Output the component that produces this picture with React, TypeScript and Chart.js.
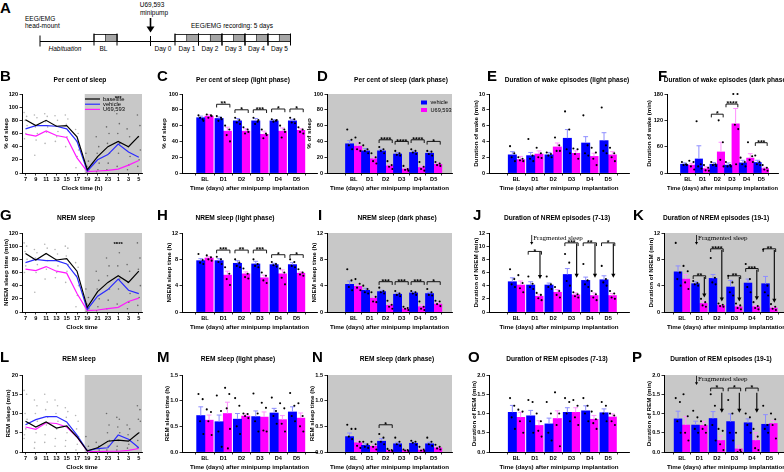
import React, { useEffect, useRef } from 'react';
import { Chart, registerables } from 'chart.js';

Chart.register(...registerables);

const SANS = "'Liberation Sans', Arial, Helvetica, sans-serif";
const SERIF = "'Liberation Serif', 'Times New Roman', serif";
Chart.defaults.color = '#000';
Chart.defaults.font.family = SANS;

// ---------------- categories / ticks ----------------
const days = ['BL', 'D1', 'D2', 'D3', 'D4', 'D5'];
const clockHours = ['7', '9', '11', '13', '15', '17', '19', '21', '23', '1', '3', '5'];
const lineLegend = ['baseline', 'vehicle', 'U69,593'];
const barLegend = ['vehicle', 'U69,593'];

// ---------------- B: per cent of sleep (2 h bins) ----------------
const sleepPctBaseline = [81, 72, 80, 71, 72, 55, 5, 25, 40, 48, 40, 56];
const sleepPctVehicle = [67, 72, 72, 71, 67, 48, 3, 20, 28, 44, 32, 24];
const sleepPctU69 = [59, 56, 64, 57, 54, 23, 2, 3, 4, 6, 12, 19];
const sleepPctIndividual = [
  [92, 86, 80, 72, 60, 52], [88, 84, 70, 60, 50, 27], [90, 86, 78, 70, 62, 45],
  [87, 80, 72, 63, 55, 48], [88, 82, 74, 64, 55, 40], [66, 60, 48, 35, 25, 8],
  [30, 18, 10, 5, 2, 0], [55, 40, 30, 15, 5, 2], [70, 60, 45, 30, 15, 5],
  [90, 75, 60, 45, 30, 10], [67, 55, 40, 25, 12, 5], [88, 72, 55, 35, 20, 10],
];

// ---------------- G: NREM sleep (min per 2 h) ----------------
const nremBaseline = [89, 79, 89, 79, 81, 62, 7, 31, 45, 55, 45, 62];
const nremVehicle = [75, 80, 78, 78, 73, 53, 4, 24, 34, 50, 33, 28];
const nremU69 = [65, 63, 69, 62, 59, 28, 2, 3, 5, 7, 16, 21];
const nremIndividual = [
  [105, 100, 92, 80, 70, 60], [95, 90, 82, 72, 60, 30], [103, 97, 88, 78, 65, 50],
  [95, 88, 80, 70, 60, 52], [100, 97, 85, 72, 62, 45], [75, 68, 55, 40, 25, 8],
  [35, 22, 12, 5, 2, 0], [62, 48, 35, 20, 8, 2], [82, 70, 55, 35, 18, 5],
  [105, 90, 70, 50, 35, 12], [72, 62, 45, 28, 15, 5], [105, 82, 65, 40, 22, 10],
];

// ---------------- L: REM sleep (min per 2 h) ----------------
const remBaseline = [8.0, 6.5, 7.8, 6.2, 6.8, 3.9, 0.3, 1.1, 2.8, 3.1, 2.8, 5.0];
const remVehicle = [7.1, 8.4, 9.2, 9.2, 7.8, 4.4, 0.3, 0.9, 1.1, 4.4, 3.3, 1.1];
const remU69 = [6.5, 5.9, 7.6, 7.4, 6.5, 3.9, 0.2, 0.1, 0.2, 0.2, 0.4, 0.9];
const remIndividual = [
  [16, 15, 10, 8.5, 6, 4.5, 3.5], [13.5, 12, 10, 8, 5, 2.5, 1], [15, 13, 11, 9, 7, 4.5, 2.5],
  [13.5, 12, 10, 8, 6, 3.5, 1.5], [11.5, 10.5, 9, 7, 5, 3, 1.5], [9.5, 8, 6, 4, 2, 0.5],
  [4, 1.5, 0.5, 0, 0], [2.5, 1.5, 1, 0.5, 0], [10, 7, 5, 3, 1.5, 0.5],
  [9, 8.5, 6.5, 5, 3, 1.5, 0.5], [7, 6, 4.5, 3, 2, 1], [12, 11, 8.5, 8, 5, 3, 1],
];

// ---------------- C ----------------
const lightSleepVeh = [70, 69, 66, 66, 66, 66];
const lightSleepVehErr = [2, 2, 3, 3, 1.5, 2];
const lightSleepU69 = [72, 53, 53, 49, 53, 54];
const lightSleepU69Err = [2, 5, 3, 4, 4, 2];
const lightSleepVehDots = [[73, 68, 70, 66], [72, 70, 66, 68], [70, 67, 64, 62], [70, 65, 62, 67], [68, 66, 65, 67], [70, 68, 64, 63]];
const lightSleepU69Dots = [[74, 73, 70, 72], [60, 55, 48, 40], [58, 55, 50, 52], [55, 50, 44, 48], [60, 55, 45, 52], [58, 55, 52, 50]];
const lightSleepSig = ['', '**', '*', '***', '*', '*'];
const lightSleepSigAt = [0, 87, 80, 80, 81, 81];

// ---------------- D ----------------
const darkSleepVeh = [37, 28, 28, 24, 26, 25];
const darkSleepVehErr = [4, 3, 2, 2, 2, 2];
const darkSleepU69 = [34, 18, 9, 5, 7, 11];
const darkSleepU69Err = [4, 3, 2, 1, 2, 2];
const darkSleepVehDots = [[55, 42, 35, 30], [35, 30, 28, 25], [33, 30, 28, 25], [28, 25, 23, 22], [30, 28, 26, 24], [28, 27, 24, 22]];
const darkSleepU69Dots = [[45, 38, 30, 28], [25, 20, 15, 12], [15, 10, 8, 5], [9, 5, 4, 3], [14, 8, 5, 3], [14, 12, 10, 9]];
const darkSleepSig = ['', '', '****', '****', '****', '*'];
const darkSleepSigAt = [0, 0, 42, 40, 42, 40];

// ---------------- E ----------------
const wakeLightVeh = [2.3, 2.2, 2.3, 4.4, 3.8, 4.1];
const wakeLightVehErr = [0.4, 0.4, 0.3, 1.1, 0.8, 1.0];
const wakeLightU69 = [1.7, 2.4, 3.3, 2.5, 2.1, 2.3];
const wakeLightU69Err = [0.4, 0.4, 0.5, 0.3, 0.4, 0.4];
const wakeLightVehDots = [[3.4, 2.5, 2, 1.5], [4.3, 2.2, 1.8, 1.5], [2.6, 2.4, 2.2, 2], [7.8, 5.5, 3, 2.5], [7.3, 3.5, 2.5, 2.2], [8.3, 3.5, 2.8, 2.5]];
const wakeLightU69Dots = [[2, 1.8, 1.6, 1.5], [3.2, 2.5, 2, 1.9], [4.5, 3.5, 2.8, 2.8], [3.1, 3, 2.4, 1.8], [3.2, 2.6, 1.8, 1], [3.2, 2.5, 2, 1.5]];

// ---------------- F ----------------
const wakeDarkVeh = [20, 32, 20, 18, 23, 24];
const wakeDarkVehErr = [3, 30, 4, 5, 6, 5];
const wakeDarkU69 = [18, 10, 48, 112, 34, 10];
const wakeDarkU69Err = [4, 4, 22, 35, 10, 3];
const wakeDarkVehDots = [[25, 20, 18, 18], [118, 20, 15, 10], [25, 20, 18, 16], [25, 18, 15, 15], [35, 25, 20, 15], [40, 25, 20, 18]];
const wakeDarkU69Dots = [[28, 25, 15, 8], [18, 12, 6, 5], [120, 70, 30, 15], [180, 180, 110, 100, 20], [70, 38, 30, 25], [18, 12, 8, 5]];
const wakeDarkSig = ['', '', '*', '****', '', '***'];
const wakeDarkSigAt = [0, 0, 134, 157, 0, 69];

// ---------------- H ----------------
const nremLightVeh = [7.8, 7.8, 7.4, 7.3, 7.2, 7.2];
const nremLightVehErr = [0.3, 0.3, 0.4, 0.4, 0.2, 0.3];
const nremLightU69 = [8.2, 5.6, 5.8, 5.2, 5.8, 5.9];
const nremLightU69Err = [0.2, 0.6, 0.3, 0.4, 0.6, 0.2];
const nremLightVehDots = [[8.8, 7.9, 7.5, 7.3], [8.4, 8, 7.6, 7.3], [8, 7.5, 7, 6.8], [8, 7.3, 7, 6.8], [7.6, 7.3, 7.1, 6.9], [8, 7.6, 7, 6.8]];
const nremLightU69Dots = [[8.6, 8.3, 8, 7.8], [6.8, 5.8, 5, 4.1], [6.6, 5.8, 5.3, 5.1], [6, 5.5, 4.8, 4.4], [6.6, 6, 5.2, 4.2], [6.5, 6, 5.7, 5.5]];
const nremLightSig = ['', '***', '**', '***', '*', '*'];
const nremLightSigAt = [0, 9.4, 9.4, 9.4, 8.7, 8.7];

// ---------------- I ----------------
const nremDarkVeh = [4.2, 3.3, 3.1, 2.7, 2.9, 2.8];
const nremDarkVehErr = [0.5, 0.3, 0.2, 0.2, 0.2, 0.2];
const nremDarkU69 = [3.9, 2.1, 1.0, 0.5, 0.8, 1.2];
const nremDarkU69Err = [0.3, 0.3, 0.3, 0.1, 0.3, 0.2];
const nremDarkVehDots = [[6.5, 4.8, 3.8, 3.3], [4, 3.5, 3, 2.8], [3.7, 3.2, 3, 2.8], [3.2, 2.8, 2.6, 2.4], [3.2, 3, 2.8, 2.6], [3.5, 3, 2.6, 2.5]];
const nremDarkU69Dots = [[5, 4.3, 3.7, 3.3], [3, 2.3, 1.6, 1.5], [1.7, 1.1, 0.8, 0.5], [0.8, 0.6, 0.5, 0.3], [1.6, 0.8, 0.5, 0.3], [1.7, 1.6, 1.2, 0.9]];
const nremDarkSig = ['', '', '***', '***', '***', '*'];
const nremDarkSigAt = [0, 0, 4.6, 4.6, 4.6, 4.6];

// ---------------- J ----------------
const nremEpLightVeh = [4.6, 4.1, 4.1, 5.7, 4.8, 4.9];
const nremEpLightVehErr = [0.6, 0.5, 0.3, 0.9, 0.5, 0.6];
const nremEpLightU69 = [4.1, 2.4, 3.0, 2.6, 2.5, 2.5];
const nremEpLightU69Err = [0.6, 0.3, 0.4, 0.3, 0.4, 0.3];
const nremEpLightVehDots = [[6.5, 5, 4.2, 3.8], [5.4, 4.3, 3.8, 3.5], [5.4, 4.2, 3.8, 3.5], [8.8, 7.5, 4.7, 4], [7.3, 4.8, 4.2, 3.8], [7, 5, 4.5, 4]];
const nremEpLightU69Dots = [[5.6, 4.4, 3.6, 3], [2.9, 2.6, 2.1, 1.8], [3.8, 3.2, 2.6, 2.2], [3, 2.7, 2.4, 2.2], [3.2, 2.7, 2.2, 1.8], [3.2, 2.8, 2.2, 2]];
const nremEpLightSig = ['', '*', '', '***', '**', '*'];
const nremEpLightSigAt = [0, 9.2, 0, 10.5, 10.5, 10.5];
const nremEpLightArrows = [[1, 9.1, 5.0], [3, 10.4, 5.2], [4, 10.4, 5.2], [5, 10.4, 5.2]];

// ---------------- K ----------------
const nremEpDarkVeh = [6.1, 4.3, 5.1, 3.8, 4.4, 4.3];
const nremEpDarkVehErr = [0.9, 0.3, 0.6, 1.0, 0.6, 1.1];
const nremEpDarkU69 = [5.0, 1.3, 1.0, 0.8, 0.8, 0.6];
const nremEpDarkU69Err = [0.7, 0.4, 0.1, 0.2, 0.2, 0.2];
const nremEpDarkVehDots = [[10.5, 6, 5, 4], [4.7, 4.4, 4.2, 4], [8.2, 5.2, 4.5, 4.2], [5.5, 4.5, 3, 2.5], [7.3, 5, 3.8, 3], [9.5, 4, 3, 2.5]];
const nremEpDarkU69Dots = [[7, 6.2, 4.5, 3.5], [2, 1.5, 1, 0.8], [1.3, 1.1, 0.9, 0.8], [1.3, 1, 0.6, 0.4], [1.5, 0.9, 0.6, 0.4], [1.2, 0.8, 0.5, 0.3]];
const nremEpDarkSig = ['', '**', '****', '**', '***', '**'];
const nremEpDarkSigAt = [0, 5.5, 9.6, 5.5, 6.6, 9.6];
const nremEpDarkArrows = [[1, 5.3, 2.2], [2, 9.4, 1.6], [3, 5.3, 1.6], [4, 6.4, 1.8], [5, 9.4, 1.4]];

// ---------------- M ----------------
const remLightVeh = [0.71, 0.59, 0.64, 0.69, 0.76, 0.78];
const remLightVehErr = [0.17, 0.13, 0.11, 0.11, 0.09, 0.1];
const remLightU69 = [0.62, 0.75, 0.70, 0.68, 0.63, 0.66];
const remLightU69Err = [0.1, 0.22, 0.04, 0.1, 0.08, 0.1];
const remLightVehDots = [[1.13, 1.03, 0.6, 0.35], [1.1, 0.8, 0.4, 0.1], [1.05, 0.9, 0.5, 0.35], [1.14, 0.75, 0.6, 0.4], [1.06, 0.8, 0.7, 0.55], [1.15, 0.9, 0.7, 0.6]];
const remLightU69Dots = [[0.83, 0.78, 0.6, 0.33], [1.25, 1.13, 0.85, 0.45, 0.07], [0.75, 0.74, 0.7, 0.66], [0.96, 0.86, 0.42, 0.4], [0.95, 0.85, 0.55, 0.4], [0.95, 0.7, 0.5, 0.4]];

// ---------------- N ----------------
const remDarkVeh = [0.30, 0.13, 0.21, 0.16, 0.17, 0.16];
const remDarkVehErr = [0.07, 0.03, 0.05, 0.03, 0.02, 0.03];
const remDarkU69 = [0.18, 0.11, 0.03, 0.03, 0.04, 0.08];
const remDarkU69Err = [0.05, 0.03, 0.01, 0.01, 0.01, 0.02];
const remDarkVehDots = [[0.53, 0.45, 0.3, 0.25], [0.2, 0.15, 0.1, 0.08], [0.35, 0.28, 0.2, 0.15], [0.28, 0.2, 0.15, 0.12], [0.22, 0.2, 0.18, 0.14], [0.28, 0.2, 0.15, 0.12]];
const remDarkU69Dots = [[0.45, 0.2, 0.12, 0.08], [0.2, 0.15, 0.1, 0.05], [0.06, 0.04, 0.03, 0.02], [0.05, 0.04, 0.03, 0.02], [0.1, 0.05, 0.03, 0.02], [0.14, 0.1, 0.07, 0.05]];
const remDarkSig = ['', '', '*', '', '', ''];
const remDarkSigAt = [0, 0, 0.53, 0, 0, 0];

// ---------------- O ----------------
const remEpLightVeh = [1.03, 0.94, 0.73, 1.03, 1.07, 1.02];
const remEpLightVehErr = [0.18, 0.14, 0.15, 0.12, 0.13, 0.1];
const remEpLightU69 = [0.90, 0.69, 0.87, 1.03, 0.85, 0.91];
const remEpLightU69Err = [0.13, 0.12, 0.2, 0.12, 0.1, 0.08];
const remEpLightVehDots = [[1.4, 1.2, 0.9, 0.6], [1.35, 1.3, 0.8, 0.5], [1.3, 1.0, 0.5, 0.3], [1.4, 1.3, 1.0, 0.8], [1.4, 1.2, 1.0, 0.8], [1.3, 1.2, 1.0, 0.8]];
const remEpLightU69Dots = [[1.1, 1.05, 0.8, 0.5], [1.0, 0.8, 0.55, 0.4], [1.55, 1.0, 0.7, 0.15], [1.35, 1.2, 0.9, 0.7], [1.05, 0.85, 0.75, 0.6], [1.0, 0.95, 0.8, 0.7]];

// ---------------- P ----------------
const remEpDarkVeh = [0.86, 0.70, 0.87, 0.79, 0.76, 0.72];
const remEpDarkVehErr = [0.2, 0.1, 0.18, 0.2, 0.1, 0.25];
const remEpDarkU69 = [0.70, 0.69, 0.30, 0.08, 0.30, 0.74];
const remEpDarkU69Err = [0.22, 0.1, 0.12, 0.08, 0.2, 0.08];
const remEpDarkVehDots = [[1.4, 1.3, 0.8, 0.5], [1.07, 0.9, 0.6, 0.5], [1.5, 1.2, 0.7, 0.3], [1.35, 1.0, 0.5, 0.3], [1.0, 0.9, 0.7, 0.5], [1.2, 0.7, 0.6, 0.5]];
const remEpDarkU69Dots = [[1.5, 0.93, 0.5, 0.3], [0.8, 0.7, 0.6, 0.5], [0.6, 0.55, 0.2, 0.05], [0.5, 0.05, 0, 0], [0.6, 0.4, 0.1, 0.05], [1.0, 0.85, 0.7, 0.35]];
const remEpDarkSig = ['', '', '*', '*', '*', ''];
const remEpDarkSigAt = [0, 0, 1.66, 1.66, 1.66, 0];
const remEpDarkArrows = [[2, 1.54, 1.02], [3, 1.54, 1.02], [4, 1.54, 1.02]];

// ---------------- styling ----------------
const BLUE = '#0000ff';
const MAG = '#ff00ff';
const BLUE_ERR = '#8e8eff';
const MAG_ERR = '#ff90ff';
const GRAY = '#c8c8c8';
const TICK_FONT = { family: SANS, size: 5.6, weight: 'bold' };
const AXIS_FONT = { family: SANS, size: 6.2, weight: 'bold' };
const AXIS_LH = 6.2 * 1.2;
const JIT = [-2.3, 1.9, -0.7, 2.6, 0.5, -1.7];

const ROWS = [
  { top: 94, bottom: 173, titleY: 80, xTitleY: 188, letterY: 76 },
  { top: 233, bottom: 312, titleY: 218, xTitleY: 327, letterY: 215 },
  { top: 375, bottom: 452, titleY: 359, xTitleY: 467, letterY: 357 },
];

const DAYS_X = 'Time (days) after minipump implantation';

function geom(spec: any) {
  const row = ROWS[spec.row];
  const cl = Math.floor(spec.axis - 26);
  const cr = Math.ceil(Math.max(spec.right + 3, spec.canvasRight || 0));
  const ct = row.titleY - 7;
  const cb = row.xTitleY + 5;
  return { row, cl, cr, ct, cb, W: cr - cl, H: cb - ct };
}

function makeScales(spec: any, g: any, labels: string[], xMin: number, xMax: number, xTitle: string) {
  const grid = { display: true, drawOnChartArea: false, drawTicks: true, tickLength: 2.5, color: '#000', lineWidth: 0.8 };
  const border = { display: true, color: '#000', width: 1 };
  return {
    x: {
      type: 'linear', min: xMin, max: xMax,
      afterBuildTicks: (s: any) => { s.ticks = labels.map((_, i) => ({ value: i })); },
      afterFit: (s: any) => { s.height = g.cb - spec.bottom; },
      ticks: { callback: (v: any) => labels[v] ?? '', font: TICK_FONT, color: '#000', padding: 0.5, autoSkip: false, maxRotation: 0, minRotation: 0 },
      grid, border,
      title: { display: true, text: xTitle, font: AXIS_FONT, color: '#000', padding: { top: 0, bottom: g.cb - g.row.xTitleY - AXIS_LH / 2 } },
    },
    y: {
      type: 'linear', min: 0, max: spec.yMax,
      afterFit: (s: any) => { s.width = spec.axis - g.cl; },
      ticks: { stepSize: spec.yStep, callback: (v: any) => Number(v).toFixed(spec.yDec || 0), font: TICK_FONT, color: '#000', padding: 1.5 },
      grid, border,
      title: { display: true, text: spec.yTitle, font: AXIS_FONT, color: '#000', padding: { top: Math.max(0, spec.axis - spec.yTitleOff - g.cl - AXIS_LH / 2), bottom: 0 } },
    },
  };
}

function drawTitle(ctx: any, spec: any, g: any) {
  ctx.save();
  ctx.fillStyle = '#000';
  ctx.font = `bold 6.6px ${SANS}`;
  ctx.textAlign = 'center';
  ctx.textBaseline = 'middle';
  ctx.fillText(spec.title, spec.titleX - g.cl, g.row.titleY - g.ct);
  ctx.restore();
}

function drawArrow(ctx: any, x: number, y1: number, y2: number, lw = 1.1, hl = 4, hw = 2.1) {
  ctx.save();
  ctx.strokeStyle = '#000';
  ctx.fillStyle = '#000';
  ctx.lineWidth = lw;
  ctx.beginPath();
  ctx.moveTo(x, y1);
  ctx.lineTo(x, y2 - hl + 0.5);
  ctx.stroke();
  ctx.beginPath();
  ctx.moveTo(x - hw, y2 - hl);
  ctx.lineTo(x + hw, y2 - hl);
  ctx.lineTo(x, y2);
  ctx.closePath();
  ctx.fill();
  ctx.restore();
}

function makeBarChart(canvas: HTMLCanvasElement, spec: any) {
  const g = geom(spec);
  const plotTop = g.row.top;
  spec.bottom = g.row.bottom;
  const xMin = -(spec.first - spec.axis) / spec.sp;
  const xMax = (spec.right - spec.first) / spec.sp;
  const deco = {
    id: 'deco',
    beforeDraw(chart: any) {
      if (!spec.gray) return;
      const { ctx, chartArea: a } = chart;
      ctx.save();
      ctx.fillStyle = GRAY;
      ctx.fillRect(a.left, a.top, a.right - a.left, a.bottom - a.top);
      ctx.restore();
    },
    afterDatasetsDraw(chart: any) {
      const { ctx } = chart;
      const ys = chart.scales.y;
      const metas = [chart.getDatasetMeta(0), chart.getDatasetMeta(1)];
      const means = [spec.veh, spec.u69];
      const errs = [spec.vehErr, spec.u69Err];
      const dots = [spec.vehDots, spec.u69Dots];
      const errCol = [BLUE_ERR, MAG_ERR];
      ctx.save();
      for (let d = 0; d < 2; d++) {
        metas[d].data.forEach((bar: any, i: number) => {
          const y0 = ys.getPixelForValue(means[d][i]);
          const y1 = ys.getPixelForValue(means[d][i] + errs[d][i]);
          ctx.strokeStyle = errCol[d];
          ctx.lineWidth = 1;
          ctx.beginPath();
          ctx.moveTo(bar.x, y0);
          ctx.lineTo(bar.x, y1);
          ctx.moveTo(bar.x - 2.4, y1);
          ctx.lineTo(bar.x + 2.4, y1);
          ctx.stroke();
        });
      }
      ctx.fillStyle = '#000';
      for (let d = 0; d < 2; d++) {
        metas[d].data.forEach((bar: any, i: number) => {
          (dots[d][i] || []).forEach((v: number, k: number) => {
            ctx.beginPath();
            ctx.arc(bar.x + JIT[k % JIT.length], ys.getPixelForValue(v), 1.05, 0, Math.PI * 2);
            ctx.fill();
          });
        });
      }
      if (spec.sig) {
        spec.sig.forEach((s: string, i: number) => {
          if (!s) return;
          const xa = metas[0].data[i].x;
          const xb = metas[1].data[i].x;
          const cx = (xa + xb) / 2;
          const half = spec.thick * 0.8;
          const y = ys.getPixelForValue(spec.sigAt[i]);
          ctx.strokeStyle = '#000';
          ctx.lineWidth = 0.9;
          ctx.beginPath();
          ctx.moveTo(cx - half, y + 3.2);
          ctx.lineTo(cx - half, y);
          ctx.lineTo(cx + half, y);
          ctx.lineTo(cx + half, y + 3.2);
          ctx.stroke();
          ctx.font = `bold 7px ${SANS}`;
          ctx.textAlign = 'center';
          ctx.textBaseline = 'alphabetic';
          ctx.fillText(s, cx, y + 2.2);
        });
      }
      if (spec.arrows) {
        spec.arrows.forEach(([i, from, to]: number[]) => {
          const x = metas[1].data[i].x + 1;
          drawArrow(ctx, x, ys.getPixelForValue(from), ys.getPixelForValue(to));
        });
      }
      if (spec.frag) {
        const [i, from, to, textAt] = spec.frag;
        const x = metas[0].data[i].x + 1;
        drawArrow(ctx, x, ys.getPixelForValue(from), ys.getPixelForValue(to), 0.8, 2.8, 1.6);
        ctx.fillStyle = '#000';
        ctx.font = `7px ${SERIF}`;
        ctx.textAlign = 'left';
        ctx.textBaseline = 'middle';
        ctx.fillText('Fragmented sleep', x + 1.5, ys.getPixelForValue(textAt));
      }
      if (spec.legend) {
        const lx = spec.legend[0] - g.cl;
        const ly = spec.legend[1] - g.ct;
        const cols = [BLUE, MAG];
        ctx.font = `5.6px ${SANS}`;
        ctx.textAlign = 'left';
        ctx.textBaseline = 'middle';
        barLegend.forEach((t, k) => {
          ctx.fillStyle = cols[k];
          ctx.fillRect(lx, ly + k * 7.5 - 2, 6, 4);
          ctx.fillStyle = '#000';
          ctx.fillText(t, lx + 9.5, ly + k * 7.5);
        });
      }
      ctx.restore();
    },
    afterDraw(chart: any) { drawTitle(chart.ctx, spec, g); },
  };
  return new Chart(canvas, {
    type: 'bar',
    data: {
      datasets: [
        { label: barLegend[0], data: spec.veh.map((v: number, i: number) => ({ x: i, y: v })), backgroundColor: BLUE, borderWidth: 0, barThickness: spec.thick },
        { label: barLegend[1], data: spec.u69.map((v: number, i: number) => ({ x: i, y: v })), backgroundColor: MAG, borderWidth: 0, barThickness: spec.thick },
      ],
    },
    options: {
      responsive: false, animation: false, devicePixelRatio: 1,
      layout: { padding: { top: plotTop - g.ct, right: g.cr - spec.right, left: 0, bottom: 0 } },
      plugins: { legend: { display: false }, title: { display: false }, tooltip: { enabled: false } },
      scales: makeScales(spec, g, days, xMin, xMax, DAYS_X) as any,
    },
    plugins: [deco],
  } as any);
}

function makeLineChart(canvas: HTMLCanvasElement, spec: any) {
  const g = geom(spec);
  spec.bottom = g.row.bottom;
  const xMin = -(spec.first - spec.axis) / spec.sp;
  const xMax = (spec.right - spec.first) / spec.sp;
  const colors = ['#000000', '#2b2bff', '#ff1aff'];
  const deco = {
    id: 'deco',
    beforeDraw(chart: any) {
      const { ctx, chartArea: a } = chart;
      const xs = chart.scales.x;
      const x0 = xs.getPixelForValue(spec.grayFrom);
      ctx.save();
      ctx.fillStyle = GRAY;
      ctx.fillRect(x0, a.top, a.right - x0, a.bottom - a.top);
      ctx.restore();
    },
    beforeDatasetsDraw(chart: any) {
      const { ctx } = chart;
      const xs = chart.scales.x;
      const ys = chart.scales.y;
      ctx.save();
      spec.indiv.forEach((vals: number[], i: number) => {
        ctx.fillStyle = i >= 6 ? '#6a6a6a' : '#b4b4b4';
        vals.forEach((v, k) => {
          ctx.beginPath();
          ctx.arc(xs.getPixelForValue(i) + JIT[k % JIT.length] * 0.6, ys.getPixelForValue(v), 0.8, 0, Math.PI * 2);
          ctx.fill();
        });
      });
      ctx.restore();
    },
    afterDatasetsDraw(chart: any) {
      const { ctx } = chart;
      const xs = chart.scales.x;
      const ys = chart.scales.y;
      ctx.save();
      if (spec.star) {
        ctx.fillStyle = '#000';
        ctx.font = `bold 6px ${SANS}`;
        ctx.textAlign = 'center';
        ctx.textBaseline = 'alphabetic';
        ctx.fillText(spec.star[2], xs.getPixelForValue(spec.star[0]), ys.getPixelForValue(spec.star[1]) + 2);
      }
      if (spec.legend) {
        const lx = spec.legend[0] - g.cl;
        const ly = spec.legend[1] - g.ct;
        ctx.font = `5.8px ${SANS}`;
        ctx.textAlign = 'left';
        ctx.textBaseline = 'middle';
        lineLegend.forEach((t, k) => {
          ctx.strokeStyle = colors[k];
          ctx.lineWidth = 1.2;
          ctx.beginPath();
          ctx.moveTo(lx, ly + k * 5.2);
          ctx.lineTo(lx + 15, ly + k * 5.2);
          ctx.stroke();
          ctx.fillStyle = '#000';
          ctx.fillText(t, lx + 18, ly + k * 5.2);
        });
      }
      ctx.restore();
    },
    afterDraw(chart: any) { drawTitle(chart.ctx, spec, g); },
  };
  return new Chart(canvas, {
    type: 'line',
    data: {
      datasets: spec.series.map((s: number[], k: number) => ({
        label: lineLegend[k],
        data: s.map((v, i) => ({ x: i, y: v })),
        borderColor: colors[k], borderWidth: 1.2, pointRadius: 0, tension: 0, fill: false,
      })),
    },
    options: {
      responsive: false, animation: false, devicePixelRatio: 1,
      layout: { padding: { top: g.row.top - g.ct, right: g.cr - spec.right, left: 0, bottom: 0 } },
      plugins: { legend: { display: false }, title: { display: false }, tooltip: { enabled: false } },
      scales: makeScales(spec, g, clockHours, xMin, xMax, spec.xTitle) as any,
    },
    plugins: [deco],
  } as any);
}

// ---------------- panel layout ----------------
const COL1 = { axis: 182, first: 196, sp: 22, right: 317, thick: 8.3 };
const COL2 = { axis: 327, first: 346.5, sp: 19.2, right: 452, thick: 8.2 };
const COL3 = { axis: 489, first: 508, sp: 22, right: 629, thick: 8.3 };
const COL4 = { axis: 664, first: 673, sp: 21, right: 789, thick: 7.8 };
const LINECOL = { axis: 22, first: 25.5, sp: 10.3, right: 142, grayFrom: 5.75 };

const PANELS: any[] = [
  { kind: 'line', row: 0, letter: 'B', letterX: 0, title: 'Per cent of sleep', titleX: 80, ...LINECOL, yMax: 120, yStep: 20, yTitle: '% of sleep', yTitleOff: 16, xTitle: 'Clock time (h)', series: [sleepPctBaseline, sleepPctVehicle, sleepPctU69], indiv: sleepPctIndividual, star: [9, 114, '***'], legend: [85, 99] },
  { kind: 'bar', row: 0, letter: 'C', letterX: 157, title: 'Per cent of sleep (light phase)', titleX: 243, ...COL1, yMax: 100, yStep: 20, yTitle: '% of sleep', yTitleOff: 18, veh: lightSleepVeh, vehErr: lightSleepVehErr, u69: lightSleepU69, u69Err: lightSleepU69Err, vehDots: lightSleepVehDots, u69Dots: lightSleepU69Dots, sig: lightSleepSig, sigAt: lightSleepSigAt },
  { kind: 'bar', row: 0, letter: 'D', letterX: 317, title: 'Per cent of sleep (dark phase)', titleX: 401, ...COL2, gray: true, yMax: 100, yStep: 20, yTitle: '% of sleep', yTitleOff: 18, veh: darkSleepVeh, vehErr: darkSleepVehErr, u69: darkSleepU69, u69Err: darkSleepU69Err, vehDots: darkSleepVehDots, u69Dots: darkSleepU69Dots, sig: darkSleepSig, sigAt: darkSleepSigAt, legend: [421, 102.5] },
  { kind: 'bar', row: 0, letter: 'E', letterX: 487, title: 'Duration of wake episodes (light phase)', titleX: 567, ...COL3, yMax: 10, yStep: 2, yTitle: 'Duration of wake (min)', yTitleOff: 13, veh: wakeLightVeh, vehErr: wakeLightVehErr, u69: wakeLightU69, u69Err: wakeLightU69Err, vehDots: wakeLightVehDots, u69Dots: wakeLightU69Dots },
  { kind: 'bar', row: 0, letter: 'F', letterX: 658, title: 'Duration of wake episodes (dark phase)', titleX: 726, axis: 667, first: 681, sp: 17.6, right: 778, canvasRight: 790, thick: 7.4, yMax: 180, yStep: 60, yTitle: 'Duration of wake (min)', yTitleOff: 18, veh: wakeDarkVeh, vehErr: wakeDarkVehErr, u69: wakeDarkU69, u69Err: wakeDarkU69Err, vehDots: wakeDarkVehDots, u69Dots: wakeDarkU69Dots, sig: wakeDarkSig, sigAt: wakeDarkSigAt },

  { kind: 'line', row: 1, letter: 'G', letterX: 0, title: 'NREM sleep', titleX: 76, ...LINECOL, yMax: 120, yStep: 20, yTitle: 'NREM sleep time (min)', yTitleOff: 16, xTitle: 'Clock time', series: [nremBaseline, nremVehicle, nremU69], indiv: nremIndividual, star: [9, 103, '****'] },
  { kind: 'bar', row: 1, letter: 'H', letterX: 157, title: 'NREM sleep (light phase)', titleX: 235, ...COL1, yMax: 12, yStep: 4, yTitle: 'NREM sleep time (h)', yTitleOff: 13, veh: nremLightVeh, vehErr: nremLightVehErr, u69: nremLightU69, u69Err: nremLightU69Err, vehDots: nremLightVehDots, u69Dots: nremLightU69Dots, sig: nremLightSig, sigAt: nremLightSigAt },
  { kind: 'bar', row: 1, letter: 'I', letterX: 318, title: 'NREM sleep (dark phase)', titleX: 397, ...COL2, gray: true, yMax: 12, yStep: 4, yTitle: 'NREM sleep time (h)', yTitleOff: 13, veh: nremDarkVeh, vehErr: nremDarkVehErr, u69: nremDarkU69, u69Err: nremDarkU69Err, vehDots: nremDarkVehDots, u69Dots: nremDarkU69Dots, sig: nremDarkSig, sigAt: nremDarkSigAt },
  { kind: 'bar', row: 1, letter: 'J', letterX: 473, title: 'Duration of NREM episodes (7-13)', titleX: 557, ...COL3, yMax: 12, yStep: 2, yTitle: 'Duration of NREM (min)', yTitleOff: 13, veh: nremEpLightVeh, vehErr: nremEpLightVehErr, u69: nremEpLightU69, u69Err: nremEpLightU69Err, vehDots: nremEpLightVehDots, u69Dots: nremEpLightU69Dots, sig: nremEpLightSig, sigAt: nremEpLightSigAt, arrows: nremEpLightArrows, frag: [1, 11.7, 10.2, 11.2] },
  { kind: 'bar', row: 1, letter: 'K', letterX: 633, title: 'Duration of NREM episodes (19-1)', titleX: 716, ...COL4, gray: true, yMax: 12, yStep: 4, yTitle: 'Duration of NREM (min)', yTitleOff: 13, veh: nremEpDarkVeh, vehErr: nremEpDarkVehErr, u69: nremEpDarkU69, u69Err: nremEpDarkU69Err, vehDots: nremEpDarkVehDots, u69Dots: nremEpDarkU69Dots, sig: nremEpDarkSig, sigAt: nremEpDarkSigAt, arrows: nremEpDarkArrows, frag: [1, 11.7, 10.2, 11.2] },

  { kind: 'line', row: 2, letter: 'L', letterX: 0, title: 'REM sleep', titleX: 79, ...LINECOL, yMax: 20, yStep: 5, yTitle: 'REM sleep (min)', yTitleOff: 14, xTitle: 'Clock time', series: [remBaseline, remVehicle, remU69], indiv: remIndividual },
  { kind: 'bar', row: 2, letter: 'M', letterX: 157, title: 'REM sleep (light phase)', titleX: 238, ...COL1, yMax: 1.5, yStep: 0.5, yDec: 1, yTitle: 'REM sleep time (h)', yTitleOff: 15, veh: remLightVeh, vehErr: remLightVehErr, u69: remLightU69, u69Err: remLightU69Err, vehDots: remLightVehDots, u69Dots: remLightU69Dots },
  { kind: 'bar', row: 2, letter: 'N', letterX: 312, title: 'REM sleep (dark phase)', titleX: 397, ...COL2, gray: true, yMax: 1.5, yStep: 0.5, yDec: 1, yTitle: 'REM sleep time (h)', yTitleOff: 15, veh: remDarkVeh, vehErr: remDarkVehErr, u69: remDarkU69, u69Err: remDarkU69Err, vehDots: remDarkVehDots, u69Dots: remDarkU69Dots, sig: remDarkSig, sigAt: remDarkSigAt },
  { kind: 'bar', row: 2, letter: 'O', letterX: 468, title: 'Duration of REM episodes (7-13)', titleX: 557, ...COL3, yMax: 2, yStep: 0.5, yDec: 1, yTitle: 'Duration of REM (min)', yTitleOff: 15, veh: remEpLightVeh, vehErr: remEpLightVehErr, u69: remEpLightU69, u69Err: remEpLightU69Err, vehDots: remEpLightVehDots, u69Dots: remEpLightU69Dots },
  { kind: 'bar', row: 2, letter: 'P', letterX: 632, title: 'Duration of REM episodes (19-1)', titleX: 721, ...COL4, gray: true, yMax: 2, yStep: 0.5, yDec: 1, yTitle: 'Duration of REM (min)', yTitleOff: 15, veh: remEpDarkVeh, vehErr: remEpDarkVehErr, u69: remEpDarkU69, u69Err: remEpDarkU69Err, vehDots: remEpDarkVehDots, u69Dots: remEpDarkU69Dots, sig: remEpDarkSig, sigAt: remEpDarkSigAt, arrows: remEpDarkArrows, frag: [1, 1.98, 1.74, 1.9] },
];

function Panel({ spec }: { spec: any }) {
  const ref = useRef<HTMLCanvasElement>(null);
  const g = geom(spec);
  useEffect(() => {
    const c = ref.current!;
    const chart = spec.kind === 'bar' ? makeBarChart(c, spec) : makeLineChart(c, spec);
    return () => chart.destroy();
  }, [spec]);
  return (
    <>
      <canvas ref={ref} width={g.W} height={g.H} style={{ position: 'absolute', left: g.cl, top: g.ct, width: g.W, height: g.H }} />
      <div style={{ position: 'absolute', left: spec.letterX, top: g.row.letterY - 9, font: `bold 15px ${SANS}`, lineHeight: '18px' }}>{spec.letter}</div>
    </>
  );
}

function Timeline() {
  const boxes = [[94, 117], [175, 198.5], [198.5, 222], [222, 245], [245, 268], [268, 290.5]];
  const dayLabels = [['Day 0', 163], ['Day 1', 187], ['Day 2', 210], ['Day 3', 233.5], ['Day 4', 256.5], ['Day 5', 279.5]];
  const t = { fontFamily: SANS, fontSize: 6.5, fill: '#000' } as any;
  return (
    <svg width={320} height={62} style={{ position: 'absolute', left: 0, top: 0 }}>
      <line x1={40} y1={41.5} x2={290.5} y2={41.5} stroke="#000" strokeWidth={1} />
      <line x1={40} y1={35.5} x2={40} y2={46.5} stroke="#000" strokeWidth={1} />
      <line x1={150.5} y1={36} x2={150.5} y2={46} stroke="#000" strokeWidth={1} />
      {boxes.map(([a, b], k) => (
        <g key={k}>
          <rect x={a} y={34.5} width={b - a} height={7} fill="#fff" stroke="#000" strokeWidth={0.8} />
          <rect x={(a + b) / 2} y={34.5} width={(b - a) / 2} height={7} fill="#a6a6a6" stroke="#000" strokeWidth={0.6} />
          <line x1={a} y1={33.5} x2={a} y2={45.5} stroke="#000" strokeWidth={1} />
          <line x1={b} y1={33.5} x2={b} y2={45.5} stroke="#000" strokeWidth={1} />
        </g>
      ))}
      <line x1={150.5} y1={18} x2={150.5} y2={27} stroke="#000" strokeWidth={1.6} />
      <polygon points="146.5,26.5 154.5,26.5 150.5,32.5" fill="#000" />
      <text x={25} y={21} {...t}>EEG/EMG</text>
      <text x={25} y={28} {...t}>head-mount</text>
      <text x={152} y={6.5} textAnchor="middle" {...t}>U69,593</text>
      <text x={154} y={15} textAnchor="middle" {...t}>minipump</text>
      <text x={232} y={28} textAnchor="middle" {...t}>EEG/EMG recording: 5 days</text>
      <text x={65} y={50.5} textAnchor="middle" fontStyle="italic" {...t}>Habituation</text>
      <text x={103.5} y={50.5} textAnchor="middle" {...t}>BL</text>
      {dayLabels.map(([s, x]: any) => (
        <text key={s} x={x} y={50.5} textAnchor="middle" {...t}>{s}</text>
      ))}
    </svg>
  );
}

export default function App() {
  return (
    <div style={{ position: 'absolute', left: 0, top: 0, width: 784, height: 472, overflow: 'hidden', background: '#fff' }}>
      <div style={{ position: 'absolute', left: 0, top: -1, font: `bold 15px ${SANS}`, lineHeight: '18px' }}>A</div>
      <Timeline />
      {PANELS.map((p) => <Panel key={p.letter} spec={p} />)}
    </div>
  );
}
